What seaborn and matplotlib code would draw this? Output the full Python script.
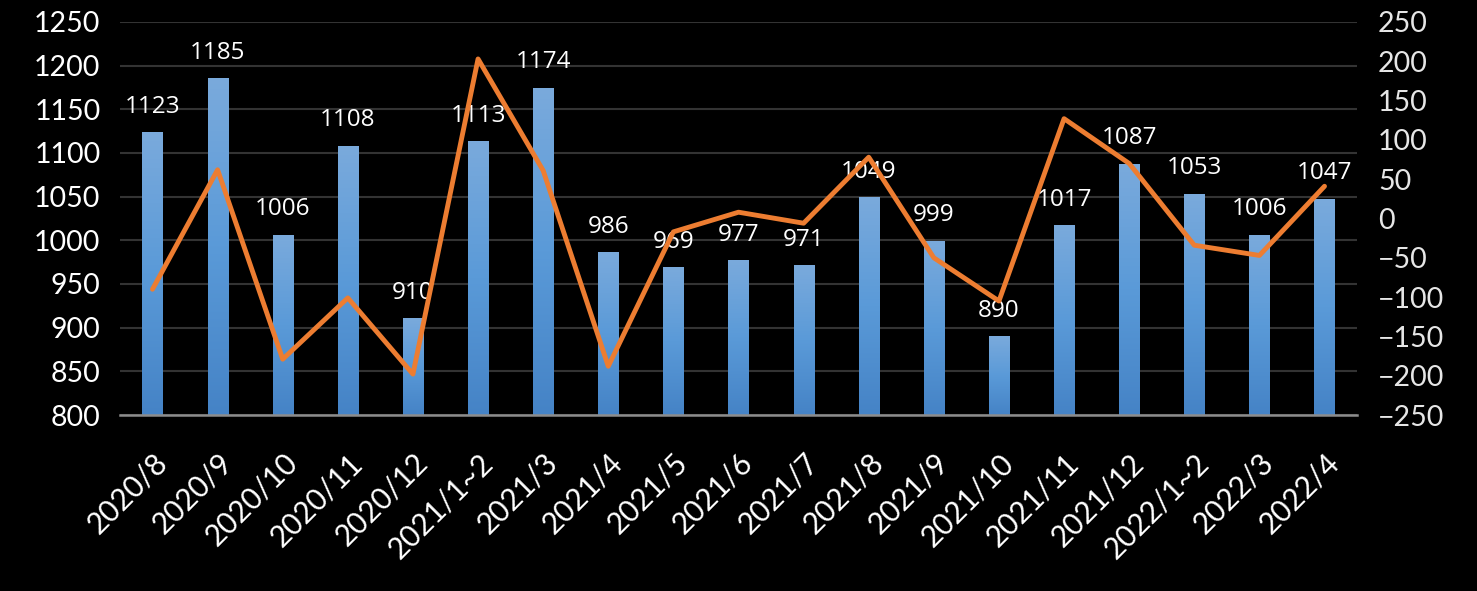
import seaborn as sns
import matplotlib.pyplot as plt
import matplotlib.colors as mcolors
import pandas as pd
import numpy as np

months = ['2020/8', '2020/9', '2020/10', '2020/11', '2020/12', '2021/1~2', '2021/3',
          '2021/4', '2021/5', '2021/6', '2021/7', '2021/8', '2021/9', '2021/10',
          '2021/11', '2021/12', '2022/1~2', '2022/3', '2022/4']
volume = [1123, 1185, 1006, 1108, 910, 1113, 1174, 986, 969, 977, 971, 1049,
          999, 890, 1017, 1087, 1053, 1006, 1047]
change = [-90, 62, -179, -101, -198, 203, 61, -188, -17, 8, -6, 78, -50, -105,
          127, 70, -34, -47, 41]

df = pd.DataFrame({'month': months, 'volume': volume, 'change': change})
df['idx'] = np.arange(len(df))

sns.set_style('dark')
plt.rcParams['font.family'] = ['Lato', 'DejaVu Sans']

fig = plt.figure(figsize=(14.77, 5.91), dpi=100, facecolor='black')
ax = fig.add_axes([0.0812, 0.2978, 0.8376, 0.6650])
ax.set_facecolor('black')

YMIN, YMAX = 800, 1250
sns.barplot(data=df, x='month', y='volume', color='#5b9bd5', width=0.31,
            saturation=1, linewidth=0, ax=ax, zorder=2)
ax.set_ylim(YMIN, YMAX)
ax.set_yticks(range(YMIN, YMAX + 1, 50))

# gradient fill for bars (lighter at top)
cmap = mcolors.LinearSegmentedColormap.from_list('bar', ['#4583c6', '#5a9ad8', '#7aaadc'])
grad = np.linspace(0, 1, 256).reshape(-1, 1)
for p in ax.patches:
    x0, w = p.get_x(), p.get_width()
    top = p.get_y() + p.get_height()
    ax.imshow(grad, cmap=cmap, origin='lower', aspect='auto',
              extent=[x0, x0 + w, YMIN, top], zorder=2.5)
ax.set_xlim(-0.5, len(df) - 0.5)
ax.set_ylim(YMIN, YMAX)

ax.bar_label(ax.containers[0], padding=10, color='white', fontsize=17.5,
             family=['Open Sans', 'DejaVu Sans'], zorder=3)

ax.grid(axis='y', color='#333333', lw=1.5)
ax.grid(axis='x', visible=False)
ax.set_axisbelow(True)
for s in ['top', 'left', 'right']:
    ax.spines[s].set_visible(False)
ax.spines['bottom'].set_color('#8c8c8c')
ax.spines['bottom'].set_linewidth(1.8)
ax.spines['bottom'].set_zorder(3)
ax.tick_params(axis='y', length=0, pad=14, labelsize=20.5, labelcolor='white')
ax.tick_params(axis='x', length=0, pad=24, labelsize=21.5, labelcolor='white')
plt.setp(ax.get_xticklabels(), rotation=45, ha='right', rotation_mode='anchor')
ax.set_xlabel('')
ax.set_ylabel('')

ax2 = ax.twinx()
sns.lineplot(data=df, x='idx', y='change', color='#ed7d31', lw=3.5, ax=ax2)
ax2.set_ylim(-250, 250)
ax2.set_yticks(range(-250, 251, 50))
ax2.grid(False)
for s in ax2.spines.values():
    s.set_visible(False)
ax2.tick_params(axis='y', length=0, pad=15, labelsize=20.5, labelcolor='#e6e6e6')
ax2.set_ylabel('')
ax2.set_xlim(-0.5, len(df) - 0.5)

fig.savefig('out.png', dpi=100, facecolor='black')
